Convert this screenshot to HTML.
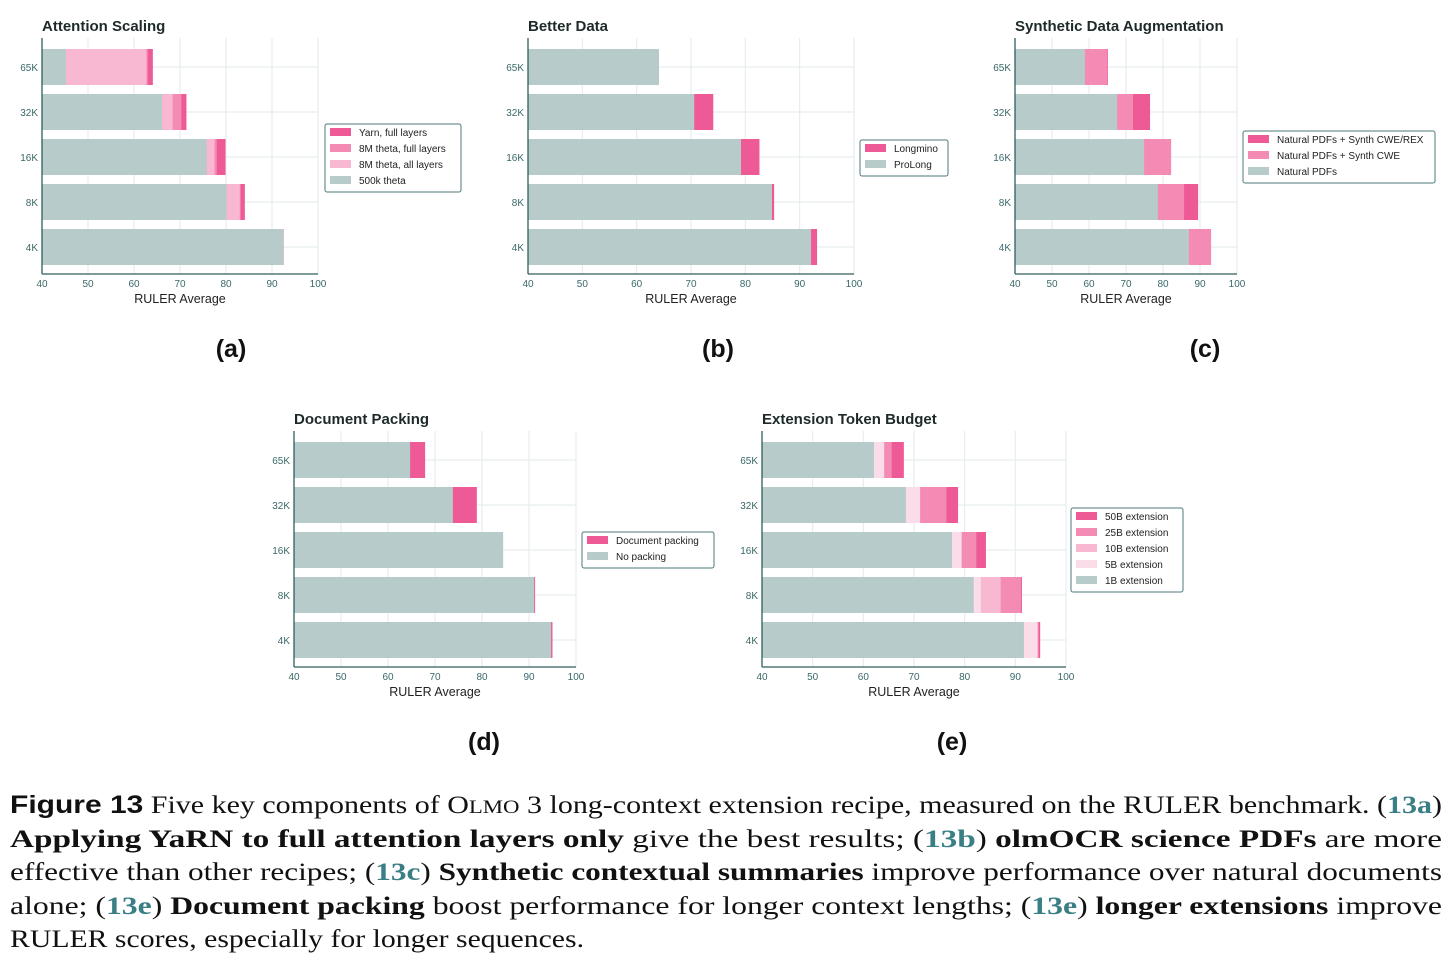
<!DOCTYPE html>
<html><head><meta charset="utf-8"><style>
html,body{margin:0;padding:0;background:#fff;}
svg{display:block;font-family:"Liberation Sans",sans-serif;}
</style></head><body>
<svg id="fig" width="1456" height="961" viewBox="0 0 1456 961">
<g id="charts"></g>
<g font-weight="bold" font-size="25" fill="#111" text-anchor="middle">
<text x="231" y="357">(a)</text>
<text x="718" y="357">(b)</text>
<text x="1205" y="357">(c)</text>
<text x="484" y="750">(d)</text>
<text x="952" y="750">(e)</text>
</g>
<g font-family="'Liberation Serif',serif" font-size="25" fill="#111">
<text x="10" y="813" textLength="1432" lengthAdjust="spacingAndGlyphs"><tspan font-family="'Liberation Sans',sans-serif" font-weight="bold" font-size="25">Figure 13</tspan>  Five key components of O<tspan font-size="19">LMO</tspan> 3 long-context extension recipe, measured on the RULER benchmark. (<tspan fill="#3b7f86" font-weight="bold">13a</tspan>)</text>
<text x="10" y="847" textLength="1432" lengthAdjust="spacingAndGlyphs"><tspan font-weight="bold">Applying YaRN to full attention layers only</tspan> give the best results; (<tspan fill="#3b7f86" font-weight="bold">13b</tspan>) <tspan font-weight="bold">olmOCR science PDFs</tspan> are more</text>
<text x="10" y="880" textLength="1432" lengthAdjust="spacingAndGlyphs">effective than other recipes; (<tspan fill="#3b7f86" font-weight="bold">13c</tspan>) <tspan font-weight="bold">Synthetic contextual summaries</tspan> improve performance over natural documents</text>
<text x="10" y="914" textLength="1432" lengthAdjust="spacingAndGlyphs">alone; (<tspan fill="#3b7f86" font-weight="bold">13e</tspan>) <tspan font-weight="bold">Document packing</tspan> boost performance for longer context lengths; (<tspan fill="#3b7f86" font-weight="bold">13e</tspan>) <tspan font-weight="bold">longer extensions</tspan> improve</text>
<text x="10" y="947" textLength="574" lengthAdjust="spacingAndGlyphs">RULER scores, especially for longer sequences.</text>
</g>
</svg>
<script>
// shared
const categories = ["65K","32K","16K","8K","4K"];
const xTicks = [40,50,60,70,80,90,100];
// (a) Attention Scaling
const aSeriesNames = ["Yarn, full layers","8M theta, full layers","8M theta, all layers","500k theta"];
const aYarn = [64.1,71.4,79.9,84.1,92.6];
const a8MFull = [63.0,70.3,78.0,83.2,92.6];
const a8MAll = [62.7,68.4,77.5,83.0,92.6];
const a500k = [45.2,66.1,75.8,80.1,92.5];
// (b) Better Data
const bSeriesNames = ["Longmino","ProLong"];
const bLongmino = [64.1,74.1,82.6,85.3,93.2];
const bProLong = [64.1,70.6,79.2,84.9,92.1];
// (c) Synthetic Data Augmentation
const cSeriesNames = ["Natural PDFs + Synth CWE/REX","Natural PDFs + Synth CWE","Natural PDFs"];
const cCweRex = [65.1,76.5,81.0,89.5,90.0];
const cCwe = [64.9,71.9,82.2,85.7,93.0];
const cNatural = [58.9,67.6,74.9,78.6,87.0];
// (d) Document Packing
const dSeriesNames = ["Document packing","No packing"];
const dPacking = [67.9,78.9,84.0,91.3,95.0];
const dNoPacking = [64.7,73.8,84.5,91.1,94.7];
// (e) Extension Token Budget
const eSeriesNames = ["50B extension","25B extension","10B extension","5B extension","1B extension"];
const e50B = [68.0,78.7,84.2,91.3,94.9];
const e25B = [65.6,76.4,82.3,91.1,94.6];
const e10B = [64.1,71.2,79.4,87.1,94.5];
const e5B = [64.1,71.2,79.4,83.2,94.3];
const e1B = [62.1,68.4,77.5,81.8,91.7];

const C = {dark:"#ee5a96",mid:"#f48bb5",light:"#f8b8d2",pale:"#fbdde9",gray:"#b8cbcb"};
const NS = "http://www.w3.org/2000/svg";
const root = document.getElementById("charts");
function mk(tag, attrs, parent){const e=document.createElementNS(NS,tag);for(const k in attrs)e.setAttribute(k,attrs[k]);parent.appendChild(e);return e;}

function chart(cfg){
  const g = mk("g",{},root);
  
  
  const x0=cfg.x0,x1=cfg.x1,yTop=cfg.y0,yAxis=cfg.y0+236;
  const xs = v => x0 + (v-40)/60*(x1-x0);
  const rowH = 45, firstC = cfg.y0+29, barH = 36;
  const ys = i => firstC + i*rowH;
  xTicks.forEach(t=>{ if(t===40) return;
    const l=mk("line",{x1:xs(t),x2:xs(t),y1:yTop,y2:yAxis,stroke:"#e3eaea","stroke-width":1},g);
    
    
  });
  categories.forEach((c,i)=>{
    const l=mk("line",{x1:x0,x2:x1,y1:ys(i),y2:ys(i),stroke:"#e3eaea","stroke-width":1},g);
    
    
  });
  // bars: overlaid in legend order, base series (last) drawn on top
  categories.forEach((c,i)=>{
    cfg.series.forEach(s=>{
      const r=mk("rect",{x:x0,y:ys(i)-barH/2,width:Math.max(0,xs(s.data[i])-x0),height:barH,fill:s.color},g);
      
      
    });
    const t=mk("text",{x:x0-4,y:ys(i)+4,"text-anchor":"end","font-size":10,fill:"#3a6868"},g);
    t.textContent=c;
    
    
  });
  const ax=mk("line",{x1:x0,x2:x1,y1:yAxis,y2:yAxis,stroke:"#2e5e5e","stroke-width":1.3},g);
  
  
  const ay=mk("line",{x1:x0,x2:x0,y1:yTop,y2:yAxis,stroke:"#2e5e5e","stroke-width":1.3},g);
  
  
  xTicks.forEach(t=>{
    const tx=mk("text",{x:xs(t),y:yAxis+13,"text-anchor":"middle","font-size":10,fill:"#3a6868"},g);
    tx.textContent=t;
    
    
  });
  const xt=mk("text",{x:(x0+x1)/2,y:yAxis+29,"text-anchor":"middle","font-size":12.5,fill:"#222"},g);
  xt.textContent="RULER Average";
  
  
  const tt=mk("text",{x:x0,y:yTop-7,"font-size":15,"font-weight":"bold",fill:"#1e2a2a"},g);
  tt.textContent=cfg.title;
  
  
  const L=cfg.legend;
  const lg=mk("g",{},g);
  
  
  mk("rect",{x:L.x,y:L.y,width:L.w,height:cfg.series.length*16+4,rx:2,fill:"#fff",stroke:"#4d7a7a","stroke-width":1},lg);
  cfg.series.forEach((s,k)=>{
    const e=mk("g",{},lg);
    
    
    mk("rect",{x:L.x+5,y:L.y+4+k*16,width:21,height:8,fill:s.color},e);
    const t=mk("text",{x:L.x+34,y:L.y+12+k*16,"font-size":10,fill:"#222"},e);
    t.textContent=s.label;
  });
}
chart({name:"chart-attention-scaling",title:"Attention Scaling",x0:42,x1:318,y0:38,legend:{x:325,y:124,w:136},
 series:[{key:"yarn",label:aSeriesNames[0],data:aYarn,color:C.dark},{key:"8m-full",label:aSeriesNames[1],data:a8MFull,color:C.mid},{key:"8m-all",label:aSeriesNames[2],data:a8MAll,color:C.light},{key:"500k",label:aSeriesNames[3],data:a500k,color:C.gray}]});
chart({name:"chart-better-data",title:"Better Data",x0:528,x1:854,y0:38,legend:{x:860,y:140,w:88},
 series:[{key:"longmino",label:bSeriesNames[0],data:bLongmino,color:C.dark},{key:"prolong",label:bSeriesNames[1],data:bProLong,color:C.gray}]});
chart({name:"chart-synthetic-data",title:"Synthetic Data Augmentation",x0:1015,x1:1237,y0:38,legend:{x:1243,y:131,w:192},
 series:[{key:"cwe-rex",label:cSeriesNames[0],data:cCweRex,color:C.dark},{key:"cwe",label:cSeriesNames[1],data:cCwe,color:C.mid},{key:"natural",label:cSeriesNames[2],data:cNatural,color:C.gray}]});
chart({name:"chart-document-packing",title:"Document Packing",x0:294,x1:576,y0:431,legend:{x:582,y:532,w:132},
 series:[{key:"packing",label:dSeriesNames[0],data:dPacking,color:C.dark},{key:"no-packing",label:dSeriesNames[1],data:dNoPacking,color:C.gray}]});
chart({name:"chart-extension-budget",title:"Extension Token Budget",x0:762,x1:1066,y0:431,legend:{x:1071,y:508,w:112},
 series:[{key:"50b",label:eSeriesNames[0],data:e50B,color:C.dark},{key:"25b",label:eSeriesNames[1],data:e25B,color:C.mid},{key:"10b",label:eSeriesNames[2],data:e10B,color:C.light},{key:"5b",label:eSeriesNames[3],data:e5B,color:C.pale},{key:"1b",label:eSeriesNames[4],data:e1B,color:C.gray}]});
</script>
</body></html>
